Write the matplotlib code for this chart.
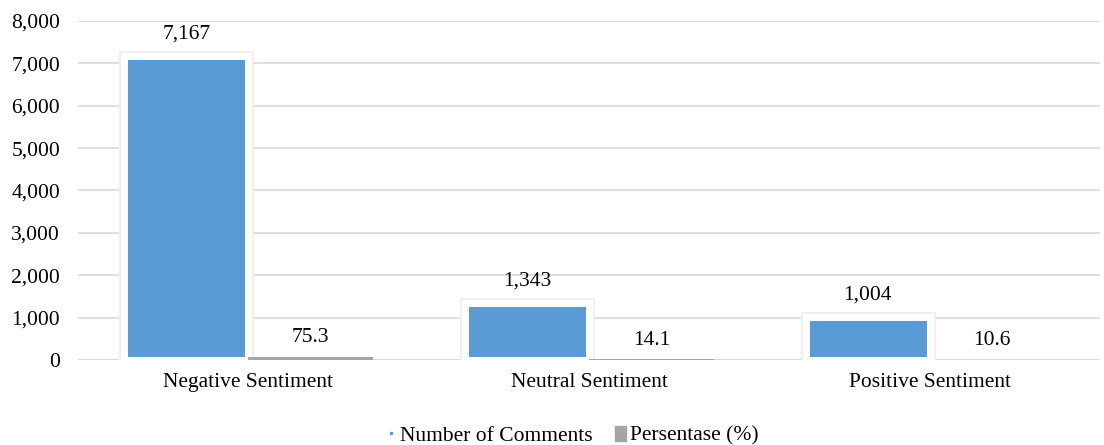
import matplotlib.pyplot as plt
import matplotlib.patheffects as pe
import matplotlib.ticker as mtick
from matplotlib.lines import Line2D
from matplotlib.patches import Patch
import numpy as np

categories = ['Negative Sentiment', 'Neutral Sentiment', 'Positive Sentiment']
comments = [7167, 1343, 1004]
percent = [75.3, 14.1, 10.6]
comment_labels = ['7,167', '1,343', '1,004']
percent_labels = ['75.3', '14.1', '10.6']

plt.rcParams['font.family'] = 'Liberation Serif'
fs = 15.5

blue = '#5B9BD5'
grey = '#A5A5A5'

fig = plt.figure(figsize=(11.04, 4.45), dpi=100)
ax = fig.add_axes([0.0707, 0.191, 0.926, 0.762])

x = np.arange(len(categories))
w = 0.365

# comment counts: white outlined bars with a faint grey halo
bars1 = ax.bar(x - w / 2, comments, w, color=blue, edgecolor='white', linewidth=5, zorder=3)
for b in bars1:
    b.set_path_effects([pe.Stroke(linewidth=8, foreground='#F0F0F0'), pe.Normal()])
bars2 = ax.bar(x + w / 2, percent, w, color=grey, zorder=3)

for b, lab in zip(bars1, comment_labels):
    ax.annotate(lab, (b.get_x() + b.get_width() / 2, b.get_height()), xytext=(0, 9),
                textcoords='offset points', ha='center', va='bottom', fontsize=fs)
for b, lab in zip(bars2, percent_labels):
    ax.annotate(lab, (b.get_x() + b.get_width() / 2, b.get_height()), xytext=(0, 7),
                textcoords='offset points', ha='center', va='bottom', fontsize=fs)

ax.set_xlim(-0.5, 2.5)
ax.set_ylim(0, 8000)
ax.set_yticks(range(0, 8001, 1000))
ax.yaxis.set_major_formatter(mtick.StrMethodFormatter('{x:,.0f}'))
ax.set_xticks(x)
ax.set_xticklabels(categories)
ax.tick_params(axis='both', length=0, labelsize=fs, colors='black')
ax.tick_params(axis='y', pad=13)
ax.tick_params(axis='x', pad=9)
ax.grid(axis='y', color='#D9D9D9', linewidth=1.2, zorder=0)
for s in ax.spines.values():
    s.set_visible(False)
ax.axhline(0, color='#D9D9D9', linewidth=1.2, zorder=1)

handles = [Line2D([], [], marker='s', linestyle='none', color=blue, markersize=1.5),
           Patch(color=grey)]
fig.legend(handles, ['Number of Comments', 'Persentase (%)'], loc='lower center',
           bbox_to_anchor=(0.518, -0.045), ncol=2, frameon=False, fontsize=fs,
           handlelength=0.55, handletextpad=0.15, columnspacing=1.0)

fig.savefig('out.png', dpi=100)
